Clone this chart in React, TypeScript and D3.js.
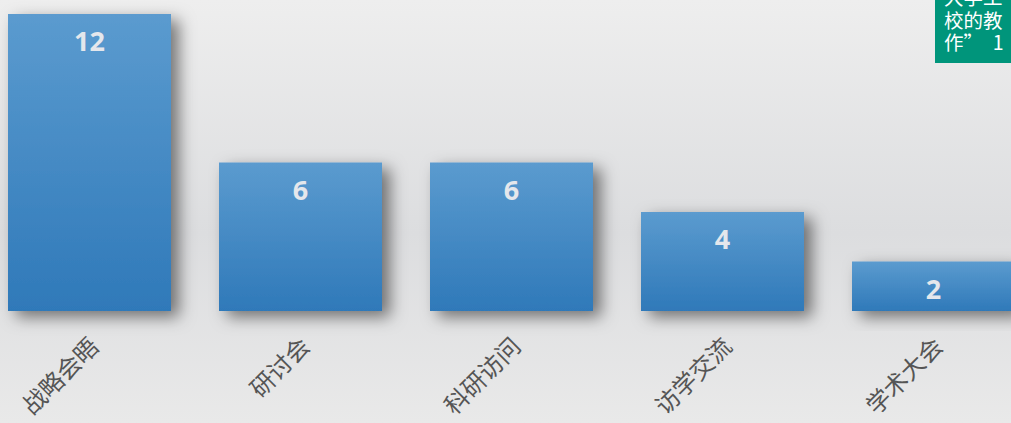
import React from "react";
import * as d3 from "d3";

const categories = ["战略会晤", "研讨会", "科研访问", "访学交流", "学术大会"];
const values = [12, 6, 6, 4, 2];
const noteLines = ["大学工", "校的教", "作”　1"];

const W = 1011;
const H = 423;

export default function App() {
  const pi = 48 / 211;
  const x = d3
    .scaleBand<string>()
    .domain(categories)
    .range([8, 8 + 211 * (categories.length - pi)])
    .paddingInner(pi)
    .paddingOuter(0);
  const y = d3.scaleLinear().domain([0, 12]).range([311, 14]);
  const bw = x.bandwidth();
  return (
    <svg width={W} height={H} style={{ position: "absolute", left: 0, top: 0 }}>
      <defs>
        <linearGradient id="bg" x1="0" y1="0" x2="0" y2="1">
          <stop offset="0" stopColor="#eeeeee" />
          <stop offset="0.55" stopColor="#dcdddf" />
          <stop offset="1" stopColor="#e9e9e9" />
        </linearGradient>
        <linearGradient id="bar" x1="0" y1="0" x2="0" y2="1">
          <stop offset="0" stopColor="#5b9bcf" />
          <stop offset="1" stopColor="#2f79b9" />
        </linearGradient>
        <filter id="sh" x="-30%" y="-30%" width="170%" height="170%">
          <feDropShadow dx="8" dy="6" stdDeviation="8" floodColor="#000" floodOpacity="0.5" />
        </filter>
      </defs>
      <rect x={0} y={0} width={W} height={H} fill="url(#bg)" />
      {categories.map((c, i) => {
        const x0 = x(c)!;
        const top = y(values[i]);
        return (
          <g key={c}>
            <rect x={x0} y={top} width={bw} height={y(0) - top} fill="url(#bar)" filter="url(#sh)" />
            <text x={x0 + bw / 2} y={top + 37} textAnchor="middle" fontFamily="'Open Sans', sans-serif" fontWeight="bold" fontSize={27} fill="#e4e7ec">
              {values[i]}
            </text>
            <text
              transform={`translate(${x0 + bw / 2 + 11},${348}) rotate(-45)`}
              textAnchor="end"
              fontFamily="'Noto Sans CJK SC', sans-serif"
              fontSize={24}
              fill="#555555"
            >
              {c}
            </text>
          </g>
        );
      })}
      <rect x={935} y={0} width={W - 935} height={63} fill="#00957b" />
      {noteLines.map((t, i) => (
        <text key={i} x={944} y={5 + i * 22.5} fontFamily="'Noto Sans CJK SC', sans-serif" fontSize={19.5} fill="#ffffff">
          {t}
        </text>
      ))}
    </svg>
  );
}
